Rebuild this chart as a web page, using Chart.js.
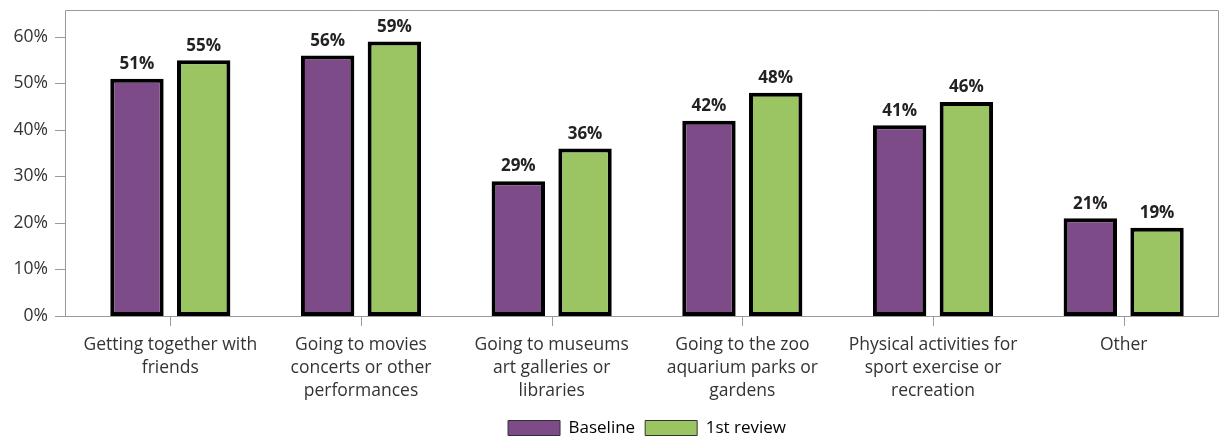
<!DOCTYPE html>
<html><head><meta charset="utf-8">
<script src="https://cdn.jsdelivr.net/npm/chart.js@4/dist/chart.umd.min.js"></script>
<style>html,body{margin:0;padding:0;background:#fff}#wrap{width:1221px;height:439px}</style>
</head><body><div id="wrap"><canvas id="c" width="1221" height="439"></canvas></div>
<script>
const categories = [
  ["Getting together with", "friends"],
  ["Going to movies", "concerts or other", "performances"],
  ["Going to museums", "art galleries or", "libraries"],
  ["Going to the zoo", "aquarium parks or", "gardens"],
  ["Physical activities for", "sport exercise or", "recreation"],
  ["Other"]
];
const baseline = [51, 56, 29, 42, 41, 21];
const review1 = [55, 59, 36, 48, 46, 19];
const seriesNames = ["Baseline", "1st review"];
const yTickValues = [0, 10, 20, 30, 40, 50, 60];

const FONT = "'Open Sans', 'DejaVu Sans', sans-serif";
const PLOT_TOP = 10, PLOT_BOTTOM = 316, FRAME_LEFT = 65, PAD_BOTTOM = -7.5;
const LEGEND_FONT = 17, LEGEND_PAD = 10, LEGEND_BOX_H = 15;
const LEGEND_H = Math.max(LEGEND_FONT, LEGEND_BOX_H) + LEGEND_PAD + 10;

const framePlugin = {
  id: 'frame',
  beforeDatasetsDraw(chart) {
    const {ctx, chartArea: a, scales} = chart;
    ctx.save();
    ctx.strokeStyle = '#9a9a9a';
    ctx.lineWidth = 1;
    ctx.beginPath();
    ctx.moveTo(FRAME_LEFT + 0.5, a.bottom + 0.5);
    ctx.lineTo(FRAME_LEFT + 0.5, a.top + 0.5);
    ctx.lineTo(a.right - 0.5, a.top + 0.5);
    ctx.lineTo(a.right - 0.5, a.bottom + 0.5);
    ctx.moveTo(FRAME_LEFT, a.bottom + 0.5);
    ctx.lineTo(a.right, a.bottom + 0.5);
    yTickValues.forEach(v => {
      const y = Math.round(scales.y.getPixelForValue(v)) + 0.5;
      ctx.moveTo(FRAME_LEFT - 10, y);
      ctx.lineTo(FRAME_LEFT, y);
    });
    categories.forEach((c, i) => {
      const x = Math.round(scales.x.getPixelForValue(i)) + 0.5;
      ctx.moveTo(x, a.bottom);
      ctx.lineTo(x, a.bottom + 10);
    });
    ctx.stroke();
    ctx.restore();
  },
  afterDatasetsDraw(chart) {
    const {ctx} = chart;
    ctx.save();
    ctx.font = "bold 17px " + FONT;
    ctx.fillStyle = '#222';
    ctx.textAlign = 'center';
    ctx.textBaseline = 'bottom';
    chart.data.datasets.forEach((ds, di) => {
      chart.getDatasetMeta(di).data.forEach((bar, i) => {
        ctx.fillText(ds.data[i] + '%', bar.x, bar.y - 6);
      });
    });
    ctx.restore();
  }
};

new Chart(document.getElementById('c'), {
  type: 'bar',
  data: {
    labels: categories,
    datasets: [
      {label: seriesNames[0], data: baseline, backgroundColor: '#7d4b87', borderColor: '#000', borderWidth: 4, borderSkipped: false,
       categoryPercentage: 0.7, barPercentage: 0.8},
      {label: seriesNames[1], data: review1, backgroundColor: '#9bc563', borderColor: '#000', borderWidth: 4, borderSkipped: false,
       categoryPercentage: 0.7, barPercentage: 0.8}
    ]
  },
  options: {
    responsive: false,
    animation: false,
    layout: {padding: {top: PLOT_TOP, right: 2, left: 0, bottom: PAD_BOTTOM}},
    plugins: {
      tooltip: {enabled: false},
      legend: {
        position: 'bottom',
        fullSize: false,
        labels: {
          boxWidth: 52, boxHeight: LEGEND_BOX_H, padding: LEGEND_PAD,
          color: '#333',
          font: {size: LEGEND_FONT, family: FONT},
          generateLabels(chart) {
            return chart.data.datasets.map((ds, i) => ({
              text: ds.label, fillStyle: ds.backgroundColor, strokeStyle: '#333',
              lineWidth: 1, datasetIndex: i, hidden: false
            }));
          }
        }
      }
    },
    scales: {
      x: {
        grid: {display: false, drawTicks: false},
        border: {display: false},
        ticks: {color: '#333', font: {size: 17.5, family: FONT, lineHeight: 1.33}, padding: 17, autoSkip: false, maxRotation: 0, minRotation: 0},
        afterFit(scale) {
          scale.height = 439 - PLOT_BOTTOM - LEGEND_H - PAD_BOTTOM;
        }
      },
      y: {
        min: 0, max: 65.8,
        grid: {display: false, drawTicks: false},
        border: {display: false},
        ticks: {stepSize: 10, color: '#333', font: {size: 17.5, family: FONT}, padding: 27,
                callback: v => v + '%'},
        afterBuildTicks(scale) {
          scale.ticks = yTickValues.map(v => ({value: v}));
        },
        afterFit(scale) { scale.width = 75; scale.paddingTop = 0; scale.paddingBottom = 0; }
      }
    }
  },
  plugins: [framePlugin]
});
</script>
</body></html>
